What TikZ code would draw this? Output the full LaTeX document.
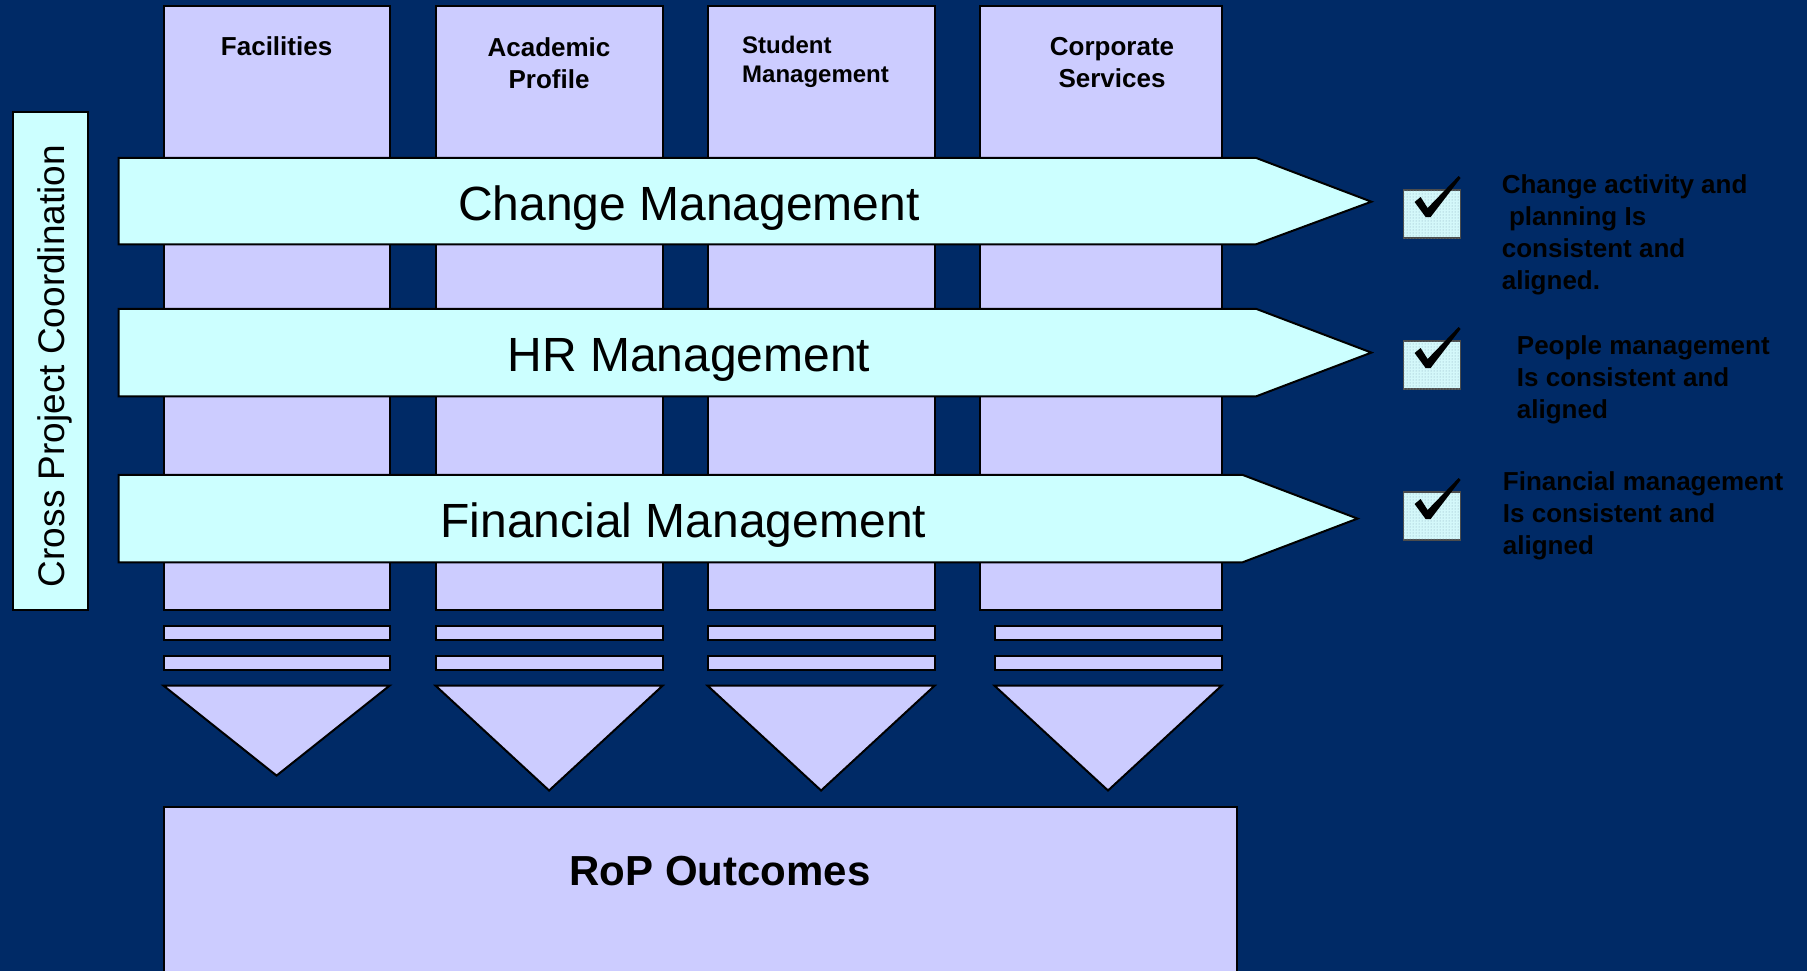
\documentclass[tikz,border=0pt]{standalone}
\usepackage{fontspec}
\setmainfont{Liberation Sans}
\usetikzlibrary{patterns}

\definecolor{navy}{RGB}{0,42,102}
\definecolor{lavender}{RGB}{204,204,255}
\definecolor{icecyan}{RGB}{204,255,255}
\definecolor{tickfill}{RGB}{212,248,250}
\definecolor{tickdots}{RGB}{130,165,185}

\tikzset{
	column/.style={draw=black, line width=2pt, fill=lavender},
	band/.style={draw=black, line width=2pt, fill=icecyan},
	tickbox/.style={draw=black!70, line width=1.5pt, fill=tickfill, postaction={pattern=dots, pattern color=tickdots}},
	colhead/.style={inner sep=0pt, align=center, font=\bfseries\fontsize{26}{32}\selectfont},
	bandtext/.style={inner sep=0pt, anchor=base, font=\fontsize{48}{56}\selectfont},
	note/.style={inner sep=0pt, anchor=north west, align=left, font=\bfseries\fontsize{26}{32}\selectfont}
}

\begin{document}
\begin{tikzpicture}[x=1pt,y=-1pt]
	\useasboundingbox (0,0) rectangle (1807,971);
	\fill[navy] (0,0) rectangle (1807,971);

	% the four columns
	\foreach \l/\r in {163.6/389.5, 435.6/662.6, 707.6/934.6, 979.5/1221.5}
		\draw[column] (\l,5.8) rectangle (\r,609.6);

	% stripes and downward points under each column
	\foreach \l/\r/\tip in {163.6/389.5/775.6, 435.6/662.6/790.5, 707.6/934.6/790.5, 994.5/1221.5/790.5} {
		\draw[column] (\l,625.7) rectangle (\r,639.6);
		\draw[column] (\l,655.7) rectangle (\r,669.5);
		\draw[column] (\l,685.7) -- (\r,685.7) -- ({(\l+\r)/2},\tip) -- cycle;
	}

	\draw[column] (163.6,806.7) rectangle (1236.5,980);

	% horizontal bands
	\draw[band] (118.7,157.9) -- (1256,157.9) -- (1371.4,201.7) -- (1256,244.3) -- (118.7,244.3) -- cycle;
	\draw[band] (118.7,308.8) -- (1256,308.8) -- (1371.4,352.6) -- (1256,396.4) -- (118.7,396.4) -- cycle;
	\draw[band] (118.7,474.8) -- (1242.3,474.8) -- (1357.5,518.6) -- (1242.3,562.4) -- (118.7,562.4) -- cycle;

	\draw[band] (12.7,111.8) rectangle (87.6,609.6);

	% labels
	\node[colhead, anchor=base] (fac) at (276.6,56) {Facilities};
	\node[colhead, anchor=north] (acad) at (549,37.5) {Academic\\Profile};
	\node[colhead, anchor=north west, align=left, font=\bfseries\fontsize{24}{29}\selectfont] (stud) at (742,35.5) {Student\\Management};
	\node[colhead, anchor=north] (corp) at (1112,37.5) {Corporate\\Services};

	\node[bandtext] (chg) at (689,220.5) {Change Management};
	\node[bandtext] (hr) at (689,371) {HR Management};
	\node[bandtext] (fin) at (683.4,537.5) {Financial Management};

	\node[inner sep=0pt, anchor=base, rotate=90, font=\fontsize{37}{44}\selectfont] (cross) at (64.5,366) {Cross Project Coordination};

	\node[inner sep=0pt, anchor=base, font=\bfseries\fontsize{42}{50}\selectfont] (rop) at (720,885) {RoP Outcomes};

	% ticked boxes
	\foreach \t in {190,341,492} {
		\begin{scope}[shift={(1403.6,\t)}]
			\draw[tickbox] (0,0) rectangle (57,48);
			\fill[black] (11,12) -- (17,7) -- (24,18) -- (55,-14) -- (57,-12) -- (27,27) -- (22,27) -- cycle;
		\end{scope}
	}

	\node[note] (chgnote) at (1501.6,174.4) {Change activity and\\\ planning Is\\consistent and\\aligned.};
	\node[note] (hrnote) at (1516.7,335.4) {People management\\Is consistent and\\aligned};
	\node[note] (finnote) at (1502.7,471.4) {Financial management\\Is consistent and\\aligned};
\end{tikzpicture}
\end{document}
